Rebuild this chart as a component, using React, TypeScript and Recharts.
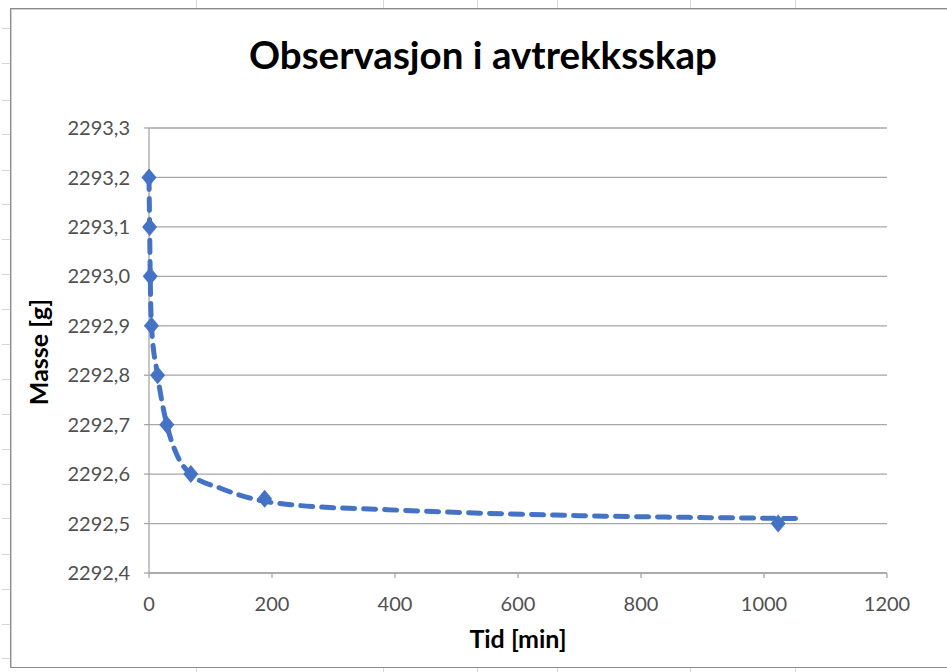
import { ScatterChart, Scatter, XAxis, YAxis, CartesianGrid } from "recharts";

/* ── Data ── */
const timeMin = [0, 1, 2, 4, 14, 29, 68, 188, 1023];
const massG = [2293.2, 2293.1, 2293.0, 2292.9, 2292.8, 2292.7, 2292.6, 2292.55, 2292.5];

// dashed curve as drawn in the original (Excel trend/smoothed line)
const curveTime = [0, 1, 2, 4, 14, 29, 45, 68, 117, 188, 232, 387, 541, 740, 985, 1054];
const curveMass = [
    2293.2, 2293.1, 2293.0, 2292.9, 2292.8, 2292.7, 2292.64, 2292.6, 2292.571, 2292.545, 2292.538,
    2292.528, 2292.521, 2292.515, 2292.511, 2292.51,
];

const xTicks = [0, 200, 400, 600, 800, 1000, 1200];
const yTicks = [2292.4, 2292.5, 2292.6, 2292.7, 2292.8, 2292.9, 2293.0, 2293.1, 2293.2, 2293.3];

const title = "Observasjon i avtrekksskap";
const xTitle = "Tid [min]";
const yTitle = "Masse [g]";

const points = timeMin.map((t, i) => ({ t, m: massG[i] }));
const curve = curveTime.map((t, i) => ({ t, m: curveMass[i] }));

/* ── Style ── */
const BLUE = "#4472C4";
const GRID = "#a6a6a6";
const FONT = "Lato, 'Noto Sans', sans-serif";
const tickStyle = { fill: "#505050", fontSize: 20, fontFamily: FONT };

// spreadsheet cell lines behind the chart
const cellCols = [196, 383, 477, 557, 690, 795];
const cellRows = [28, 63, 100, 134, 170, 204, 239, 274, 309, 344, 379, 414, 449, 484, 518, 554, 589, 624, 658];

// eslint-disable-next-line @typescript-eslint/no-explicit-any
const Diamond = (props: any) => {
    const { cx, cy } = props;
    if (cx == null || cy == null) return <g />;
    return <polygon points={`${cx},${cy - 9} ${cx + 7.5},${cy} ${cx},${cy + 9} ${cx - 7.5},${cy}`} fill={BLUE} />;
};

const NoDot = () => <g />;

const fmt = (v: number) => v.toFixed(1).replace(".", ",");

export default function App() {
    return (
        <div
            style={{
                position: "absolute",
                left: 0,
                top: 0,
                width: 947,
                height: 672,
                overflow: "hidden",
                background: "#fff",
                fontFamily: FONT,
            }}
        >
            {/* background cells */}
            {cellCols.map((x) => (
                <div key={"c" + x} style={{ position: "absolute", left: x, top: 0, width: 1, height: 672, background: "#d6d6d6" }} />
            ))}
            {cellRows.map((y) => (
                <div key={"r" + y} style={{ position: "absolute", left: 2, top: y, width: 10, height: 1, background: "#d6d6d6" }} />
            ))}

            {/* chart frame */}
            <div
                style={{
                    position: "absolute",
                    left: 10,
                    top: 8,
                    width: 960,
                    height: 658,
                    background: "#fff",
                    border: "1px solid #8c8c8c",
                    boxShadow: "inset 1px 1px 0 #d0d0d0",
                }}
            />

            <div
                style={{
                    position: "absolute",
                    left: 0,
                    width: 966,
                    top: 30,
                    textAlign: "center",
                    fontSize: 38.5,
                    fontWeight: 700,
                    color: "#000",
                    lineHeight: "48px",
                }}
            >
                {title}
            </div>

            <ScatterChart
                width={947}
                height={672}
                margin={{ top: 128, right: 60, bottom: 59, left: 0 }}
                style={{ position: "absolute", left: 0, top: 0 }}
            >
                <CartesianGrid vertical={false} stroke={GRID} strokeWidth={1.3} />
                <XAxis
                    type="number"
                    dataKey="t"
                    domain={[0, 1200]}
                    ticks={xTicks}
                    height={40}
                    stroke={GRID}
                    strokeWidth={1.3}
                    tickSize={5}
                    tickMargin={19}
                    tick={tickStyle}
                />
                <YAxis
                    type="number"
                    dataKey="m"
                    domain={[2292.4, 2293.3]}
                    ticks={yTicks}
                    width={149}
                    stroke={GRID}
                    strokeWidth={1.3}
                    tickSize={5}
                    tickMargin={14}
                    tickFormatter={fmt}
                    tick={tickStyle}
                />
                <Scatter
                    data={curve}
                    shape={NoDot}
                    line={{ stroke: BLUE, strokeWidth: 5, strokeDasharray: "12 9", strokeLinecap: "round" }}
                    lineJointType="monotoneX"
                    isAnimationActive={false}
                />
                <Scatter data={points} shape={Diamond} isAnimationActive={false} />
            </ScatterChart>

            <div
                style={{
                    position: "absolute",
                    left: 418,
                    width: 200,
                    top: 623,
                    textAlign: "center",
                    fontSize: 25,
                    fontWeight: 700,
                    lineHeight: "30px",
                    color: "#000",
                }}
            >
                {xTitle}
            </div>
            <div
                style={{
                    position: "absolute",
                    left: 38 - 100,
                    top: 352 - 15,
                    width: 200,
                    textAlign: "center",
                    fontSize: 25,
                    fontWeight: 700,
                    lineHeight: "30px",
                    color: "#000",
                    transform: "rotate(-90deg)",
                }}
            >
                {yTitle}
            </div>
        </div>
    );
}
